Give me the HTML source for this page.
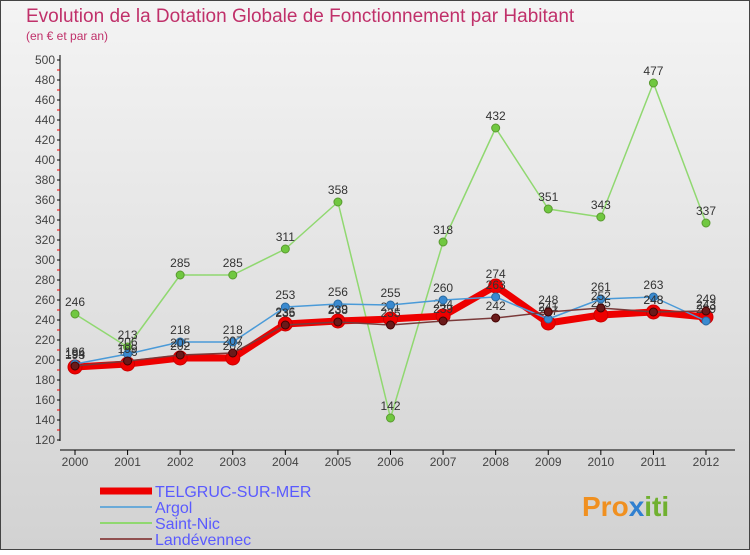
<!DOCTYPE html>
<html><head><meta charset="utf-8"><style>
body{margin:0;width:750px;height:550px;overflow:hidden;font-family:"Liberation Sans",sans-serif}
</style></head><body>
<svg id="c" width="750" height="550" xmlns="http://www.w3.org/2000/svg">
<defs><linearGradient id="bg" x1="0" y1="0" x2="0" y2="1"><stop offset="0" stop-color="#f4f4f4"/><stop offset="1" stop-color="#d2d2d2"/></linearGradient></defs>
<rect x="0.5" y="0.5" width="749" height="549" fill="url(#bg)" stroke="#444"/>
<text x="26" y="22" font-size="19" fill="#c0306a">Evolution de la Dotation Globale de Fonctionnement par Habitant</text>
<text x="26" y="40" font-size="12" fill="#c0306a">(en € et par an)</text>
<g id="axes"></g><g id="series"></g><g id="legend"></g>
<text x="582" y="516" font-size="28" font-weight="bold" fill="#f09020">Pro<tspan fill="#3080d0">x</tspan><tspan fill="#70b030">iti</tspan></text>
</svg>
<script>
const years=[2000,2001,2002,2003,2004,2005,2006,2007,2008,2009,2010,2011,2012];
const telgruc=[193,196,202,202,236,239,241,244,274,237,245,248,243];
const argol=[196,206,218,218,253,256,255,260,263,241,261,263,239];
const saintNic=[246,213,285,285,311,358,142,318,432,351,343,477,337];
const landevennec=[194,199,205,207,235,238,235,239,242,248,252,248,249];
const yTicks=[120,140,160,180,200,220,240,260,280,300,320,340,360,380,400,420,440,460,480,500];
const NS="http://www.w3.org/2000/svg";
const x=i=>75+i*(706-75)/(years.length-1);
const y=v=>440-(v-120)*(380/380);
function mk(t,a,p){const e=document.createElementNS(NS,t);for(const k in a)e.setAttribute(k,a[k]);p.appendChild(e);return e;}
const ax=document.getElementById('axes');
const yl=mk('line',{x1:60,y1:55,x2:60,y2:441,stroke:'#000'},ax);


const xl=mk('line',{x1:60,y1:450,x2:735,y2:450,stroke:'#000'},ax);


yTicks.forEach(v=>{
 mk('line',{x1:57,y1:y(v),x2:60,y2:y(v),stroke:'#000'},ax);
 if(v<500)mk('line',{x1:57,y1:y(v+10),x2:60,y2:y(v+10),stroke:'#e00'},ax);
 const t=mk('text',{x:55,y:y(v)+4,'font-size':12,fill:'#444','text-anchor':'end'},ax);t.textContent=v;
 
 
});
years.forEach((yr,i)=>{
 mk('line',{x1:x(i),y1:450,x2:x(i),y2:455,stroke:'#000'},ax);
 const t=mk('text',{x:x(i),y:466,'font-size':12,fill:'#444','text-anchor':'middle'},ax);t.textContent=yr;
 
 
});
const sg=document.getElementById('series');
function series(data,name,color,w,r,dot,ds){
 const g=mk('g',{},sg);
 
 
 mk('polyline',{points:data.map((v,i)=>x(i)+','+y(v)).join(' '),fill:'none',stroke:color,'stroke-width':w,'stroke-linejoin':'round'},g);
 data.forEach((v,i)=>{
  const c=mk('circle',{cx:x(i),cy:y(v),r:r,fill:dot,stroke:ds,'stroke-width':1},g);
  
  
  const t=mk('text',{x:x(i),y:y(v)-8,'font-size':12,fill:'#333','text-anchor':'middle'},g);t.textContent=v;
  
  
 });
}
series(saintNic,'saint-nic','#90d870',1.5,4,'#70c840','#5a9a30');
series(telgruc,'telgruc','#ee0000',7,7,'#ee0000','#c00');
series(argol,'argol','#4a9ad8',1.5,4,'#3a8ad0','#2a6aa0');
series(landevennec,'landevennec','#7a3a3a',1.5,4,'#6a1a1a','#400');
const lg=document.getElementById('legend');
[['TELGRUC-SUR-MER','#ee0000',7,491],['Argol','#6aaad8',2,507],['Saint-Nic','#90d870',2,523],['Landévennec','#905050',2,539]].forEach(([n,c,w,yy])=>{
 const g=mk('g',{},lg);
 
 
 mk('line',{x1:100,y1:yy,x2:152,y2:yy,stroke:c,'stroke-width':w},g);
 const t=mk('text',{x:155,y:yy+6,'font-size':16,fill:'#5a5aff'},g);t.textContent=n;
});
</script>
</body></html>
